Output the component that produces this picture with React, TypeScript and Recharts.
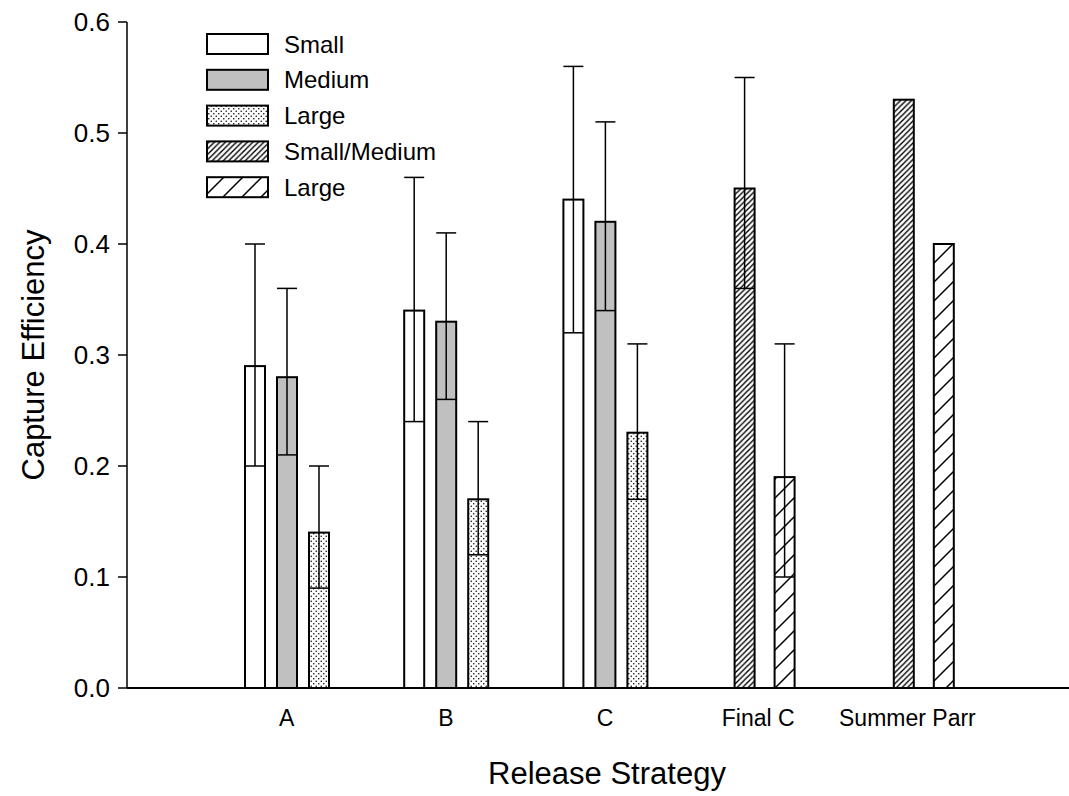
import React from 'react';
import { BarChart, Bar, XAxis, YAxis, ErrorBar, Legend, Label } from 'recharts';

const categories = ['A', 'B', 'C', 'Final C', 'Summer Parr'];

const smallMean = [0.29, 0.34, 0.44, null, null];
const smallLow = [0.2, 0.24, 0.32, null, null];
const smallHigh = [0.4, 0.46, 0.56, null, null];

const mediumMean = [0.28, 0.33, 0.42, null, null];
const mediumLow = [0.21, 0.26, 0.34, null, null];
const mediumHigh = [0.36, 0.41, 0.51, null, null];

const largeMean = [0.14, 0.17, 0.23, null, null];
const largeLow = [0.09, 0.12, 0.17, null, null];
const largeHigh = [0.2, 0.24, 0.31, null, null];

const smallMediumMean = [null, null, null, 0.45, 0.53];
const smallMediumLow = [null, null, null, 0.36, null];
const smallMediumHigh = [null, null, null, 0.55, null];

const largeHatchMean = [null, null, null, 0.19, 0.4];
const largeHatchLow = [null, null, null, 0.1, null];
const largeHatchHigh = [null, null, null, 0.31, null];

const yTicks = [0, 0.1, 0.2, 0.3, 0.4, 0.5, 0.6];

const FONT = 'Arial, "Liberation Sans", Helvetica, sans-serif';
const BAR_W = 20;
// horizontal nudge of some category labels, as in the original figure
const labelShift: Record<string, number> = { 'Final C': -6, 'Summer Parr': -16 };

const err = (m: number | null, lo: number | null, hi: number | null) =>
  m == null || lo == null || hi == null ? null : [m - lo, hi - m];

const data = categories.map((name, i) => ({
  name,
  small: smallMean[i],
  smallErr: err(smallMean[i], smallLow[i], smallHigh[i]),
  medium: mediumMean[i],
  mediumErr: err(mediumMean[i], mediumLow[i], mediumHigh[i]),
  large: largeMean[i],
  largeErr: err(largeMean[i], largeLow[i], largeHigh[i]),
  sm: smallMediumMean[i],
  smErr: err(smallMediumMean[i], smallMediumLow[i], smallMediumHigh[i]),
  lh: largeHatchMean[i],
  lhErr: err(largeHatchMean[i], largeHatchLow[i], largeHatchHigh[i]),
}));

const series = [
  { key: 'small', name: 'Small', fill: '#ffffff', axis: 'g3', size: 20 },
  { key: 'medium', name: 'Medium', fill: '#c0c0c0', axis: 'g3', size: 20 },
  { key: 'large', name: 'Large', fill: 'url(#dots)', axis: 'g3', size: 20 },
  { key: 'sm', name: 'Small/Medium', fill: 'url(#hatchDense)', axis: 'g2', size: 28 },
  { key: 'lh', name: 'Large', fill: 'url(#hatchSparse)', axis: 'g2', size: 28 },
];

const NarrowBar = (props: any) => {
  const { x, y, width, height, fill } = props;
  if (height == null || isNaN(height)) return null;
  const nx = x + (width - BAR_W) / 2;
  return <rect x={nx} y={y} width={BAR_W} height={height} fill={fill} stroke="#000" strokeWidth={2} />;
};

const CatTick = (props: any) => {
  const { x, y, payload } = props;
  const v = payload?.value;
  const shift = labelShift[v] || 0;
  return (
    <text x={x + shift} y={y} dy="0.72em" textAnchor="middle" fontSize={23} fontFamily={FONT} fill="#000">
      {v}
    </text>
  );
};

const LegendBox = () => (
  <svg width={300} height={200} style={{ display: 'block' }}>
    {series.map((s, i) => {
      const y = 4 + i * 35.8;
      return (
        <g key={s.key + i}>
          <rect x={7} y={y} width={61} height={20} fill={s.fill} stroke="#000" strokeWidth={2} />
          <text x={84} y={y + 18.5} fontSize={24} fontFamily={FONT} fill="#000">
            {s.name}
          </text>
        </g>
      );
    })}
  </svg>
);

const YTitle = (props: any) => {
  const vb = props.viewBox || { x: 0, y: 22, width: 127, height: 666 };
  const cx = vb.x + 33;
  const cy = vb.y + vb.height / 2;
  return (
    <text
      x={cx}
      y={cy}
      transform={`rotate(-90, ${cx}, ${cy})`}
      textAnchor="middle"
      dominantBaseline="central"
      fontSize={31}
      fontFamily={FONT}
      fill="#000"
    >
      Capture Efficiency
    </text>
  );
};

export default function App() {
  return (
    <div style={{ position: 'absolute', left: 0, top: 0, width: 1069, height: 796, background: '#fff' }}>
      <svg width={0} height={0} style={{ position: 'absolute' }}>
        <defs>
          <pattern id="dots" patternUnits="userSpaceOnUse" width={5} height={5}>
            <rect x={0} y={0} width={5} height={5} fill="#fff" />
            <circle cx={1.25} cy={1.25} r={0.8} fill="#111" />
            <circle cx={3.75} cy={3.75} r={0.8} fill="#111" />
          </pattern>
          <pattern id="hatchDense" patternUnits="userSpaceOnUse" width={5.5} height={5.5}>
            <rect x={0} y={0} width={5.5} height={5.5} fill="#fff" />
            <path d="M0,5.5 L5.5,0 M-1.5,1.5 L1.5,-1.5 M4,7 L7,4" stroke="#000" strokeWidth={1.4} />
          </pattern>
          <pattern id="hatchSparse" patternUnits="userSpaceOnUse" width={19} height={19}>
            <rect x={0} y={0} width={19} height={19} fill="#fff" />
            <path d="M0,19 L19,0 M-2,2 L2,-2 M17,21 L21,17" stroke="#000" strokeWidth={1.5} />
          </pattern>
        </defs>
      </svg>
      <BarChart
        width={1069}
        height={796}
        data={data}
        margin={{ top: 22, right: 0, left: 0, bottom: 0 }}
        barGap={12}
      >
        <XAxis
          xAxisId="g3"
          dataKey="name"
          height={108}
          padding={{ left: 80, right: 66 }}
          axisLine={{ stroke: '#000', strokeWidth: 2 }}
          tickLine={false}
          tickSize={10}
          tickMargin={11}
          interval={0}
          tick={<CatTick />}
        >
          <Label value="Release Strategy" position="center" dy={31} dx={9} fontSize={31} fontFamily={FONT} fill="#000" />
        </XAxis>
        <XAxis xAxisId="g2" dataKey="name" hide height={0} padding={{ left: 80, right: 66 }} />
        <YAxis
          domain={[0, 0.6]}
          ticks={yTicks}
          type="number"
          width={127}
          axisLine={{ stroke: '#000', strokeWidth: 1.5 }}
          tickLine={{ stroke: '#000', strokeWidth: 1.5 }}
          tickSize={9}
          tickMargin={8}
          tickFormatter={(v: number) => v.toFixed(1)}
          tick={{ fill: '#000', fontSize: 26, fontFamily: FONT }}
          label={<YTitle />}
        />
        <Legend
          content={() => <LegendBox />}
          layout="vertical"
          align="center"
          verticalAlign="middle"
          wrapperStyle={{ left: 200, top: 30, width: 300, height: 200 }}
        />
        {series.map((s) => (
          <Bar
            key={s.key}
            dataKey={s.key}
            name={s.name}
            xAxisId={s.axis}
            fill={s.fill}
            barSize={s.size}
            shape={<NarrowBar />}
            isAnimationActive={false}
          >
            <ErrorBar dataKey={s.key + 'Err'} width={10} stroke="#000" strokeWidth={1.5} direction="y" />
          </Bar>
        ))}
      </BarChart>
    </div>
  );
}
